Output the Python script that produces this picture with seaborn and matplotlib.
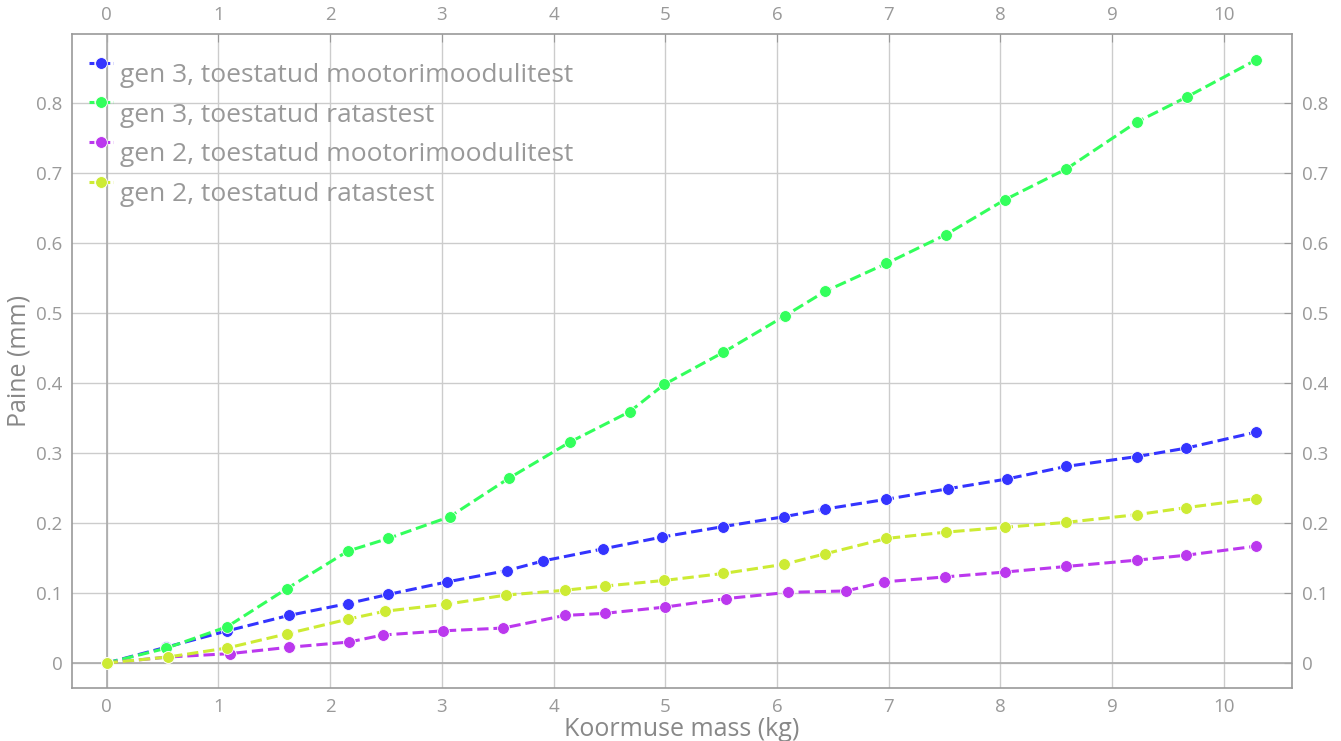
import pandas as pd
import seaborn as sns
import matplotlib.pyplot as plt

# Measured deflection (mm) vs load mass (kg)
g3_motor_x = [0, 0.53, 1.08, 1.63, 2.16, 2.52, 3.05, 3.58, 3.91, 4.44, 4.97,
              5.52, 6.06, 6.43, 6.98, 7.53, 8.06, 8.59, 9.22, 9.66, 10.29]
g3_motor_y = [0, 0.0225, 0.046, 0.068, 0.085, 0.098, 0.116, 0.132, 0.146, 0.163, 0.180,
              0.195, 0.209, 0.220, 0.234, 0.249, 0.263, 0.281, 0.295, 0.307, 0.330]

g3_wheel_x = [0, 0.53, 1.08, 1.61, 2.16, 2.52, 3.07, 3.60, 4.15, 4.68, 4.99,
              5.52, 6.07, 6.43, 6.98, 7.51, 8.04, 8.59, 9.22, 9.67, 10.29]
g3_wheel_y = [0, 0.021, 0.052, 0.106, 0.160, 0.178, 0.209, 0.264, 0.316, 0.359, 0.398,
              0.444, 0.496, 0.531, 0.571, 0.612, 0.662, 0.706, 0.773, 0.809, 0.862]

g2_motor_x = [0, 0.55, 1.10, 1.63, 2.17, 2.47, 3.01, 3.55, 4.10, 4.46, 5.00,
              5.54, 6.10, 6.62, 6.96, 7.50, 8.04, 8.59, 9.22, 9.66, 10.29]
g2_motor_y = [0, 0.0086, 0.0134, 0.0225, 0.030, 0.040, 0.046, 0.050, 0.068, 0.071, 0.080,
              0.092, 0.101, 0.103, 0.116, 0.123, 0.130, 0.138, 0.147, 0.154, 0.167]

g2_wheel_x = [0, 0.55, 1.08, 1.61, 2.16, 2.49, 3.04, 3.57, 4.10, 4.46, 4.99,
              5.52, 6.06, 6.43, 6.98, 7.51, 8.04, 8.59, 9.22, 9.66, 10.29]
g2_wheel_y = [0, 0.0086, 0.0215, 0.0416, 0.0627, 0.074, 0.084, 0.097, 0.104, 0.110, 0.118,
              0.128, 0.141, 0.156, 0.178, 0.187, 0.194, 0.201, 0.212, 0.222, 0.235]

labels = ["gen 3, toestatud mootorimoodulitest", "gen 3, toestatud ratastest",
          "gen 2, toestatud mootorimoodulitest", "gen 2, toestatud ratastest"]
colors = ["#3434FF", "#33FF5C", "#BB38EE", "#CDEB34"]
x_ticks = list(range(0, 11))
y_ticks = [0, 0.1, 0.2, 0.3, 0.4, 0.5, 0.6, 0.7, 0.8]
y_tick_labels = ["0", "0.1", "0.2", "0.3", "0.4", "0.5", "0.6", "0.7", "0.8"]

series = [(g3_motor_x, g3_motor_y), (g3_wheel_x, g3_wheel_y),
          (g2_motor_x, g2_motor_y), (g2_wheel_x, g2_wheel_y)]

sns.set_style("white")
plt.rcParams['font.family'] = ['Open Sans', 'DejaVu Sans']
grey = "#999999"

fig = plt.figure(figsize=(13.41, 7.41), dpi=100)
ax = fig.add_axes([0.0537, 0.0715, 0.9098, 0.8825])

for (xs, ys), lab, col in zip(series, labels, colors):
    df = pd.DataFrame({"x": xs, "y": ys})
    sns.lineplot(data=df, x="x", y="y", ax=ax, sort=False, color=col, label=lab,
                 linestyle="--", linewidth=2.2, marker="o", markersize=8.5,
                 markeredgecolor="white", markeredgewidth=0.6, zorder=3)

ax.set_xlim(-0.31, 10.61)
ax.set_ylim(-0.0357, 0.8987)
ax.set_xticks(x_ticks)
ax.set_yticks(y_ticks)
ax.set_yticklabels(y_tick_labels)
ax.grid(True, color="#cccccc", linewidth=1)
ax.axhline(0, color="#aaaaaa", linewidth=1.2, zorder=1)
ax.axvline(0, color="#aaaaaa", linewidth=1.2, zorder=1)
ax.set_axisbelow(True)

for s in ax.spines.values():
    s.set_color("#999999")
    s.set_linewidth(1.2)

ax.tick_params(axis="both", which="both", direction="in", length=6, color="#999999",
               labelcolor=grey, labelsize=13.5, top=True, right=True,
               labeltop=True, labelright=True, pad=7)

ax.set_xlabel("Koormuse mass (kg)", fontsize=18, color="#888888", labelpad=1)
ax.set_ylabel("Paine (mm)", fontsize=18, color="#888888", labelpad=3)

leg = ax.legend(loc="upper left", frameon=False, fontsize=19, labelcolor=grey,
                handlelength=0.9, handletextpad=0.25, labelspacing=0.55,
                borderaxespad=0.3, bbox_to_anchor=(-0.001, 0.999))
for t in leg.get_texts():
    t.set_position((0, -10))
for h in leg.get_lines():
    h.set_dashes((1.6, 1.0))

fig.savefig("out.png", dpi=100)
